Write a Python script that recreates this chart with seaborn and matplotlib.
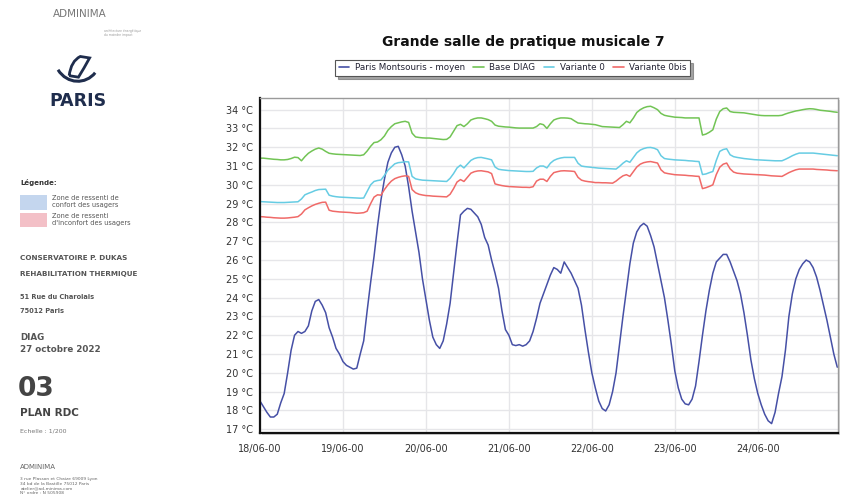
import numpy as np
import pandas as pd
import seaborn as sns
import matplotlib.pyplot as plt
from matplotlib.patches import Rectangle, PathPatch
from matplotlib.path import Path
from matplotlib.lines import Line2D
from matplotlib.ticker import MultipleLocator, FuncFormatter

# hourly values, 18/06 00h -> 24/06 23h
hours = list(range(168))
day_ticks = [0, 24, 48, 72, 96, 120, 144]
day_labels = ['18/06-00', '19/06-00', '20/06-00', '21/06-00', '22/06-00', '23/06-00', '24/06-00']
series_names = ['Paris Montsouris - moyen', 'Base DIAG', 'Variante 0', 'Variante 0bis']
series_colors = ['#4650a6', '#72c455', '#66cce3', '#f06a68']

paris = [
    18.5, 18.2, 17.9, 17.65, 17.65, 17.8, 18.4, 18.9, 20.0, 21.2, 22.0, 22.2,
    22.1, 22.2, 22.5, 23.3, 23.8, 23.9, 23.6, 23.2, 22.4, 21.9, 21.3, 21.0,
    20.6, 20.4, 20.3, 20.2, 20.25, 21.0, 21.7, 23.3, 24.8, 26.2, 27.8, 29.2,
    30.3, 31.2, 31.7, 32.0, 32.05, 31.6, 31.0, 29.9, 28.6, 27.5, 26.4, 25.0,
    23.9, 22.8, 21.9, 21.5, 21.3, 21.7, 22.6, 23.7, 25.3, 26.9, 28.4, 28.6,
    28.75, 28.7, 28.5, 28.3, 27.9, 27.2, 26.8, 26.0, 25.3, 24.5, 23.3, 22.3,
    22.0, 21.5, 21.45, 21.5, 21.42, 21.5, 21.7, 22.2, 22.9, 23.7, 24.2, 24.7,
    25.2, 25.6, 25.5, 25.3, 25.9, 25.6, 25.3, 24.9, 24.5, 23.6, 22.3, 21.1,
    20.0, 19.2, 18.5, 18.1, 17.97, 18.3, 19.0, 20.0, 21.5, 23.0, 24.4, 25.8,
    26.9, 27.5, 27.8, 27.95, 27.8, 27.3, 26.7, 25.8, 24.9, 24.0, 22.8, 21.5,
    20.1, 19.2, 18.6, 18.35, 18.3, 18.6, 19.3, 20.6, 22.0, 23.3, 24.4, 25.3,
    25.9, 26.1, 26.3, 26.3, 25.9, 25.4, 24.9, 24.2, 23.2, 22.0, 20.7, 19.7,
    18.9, 18.3, 17.8, 17.45, 17.3, 17.9, 18.9, 19.8, 21.2, 23.0, 24.2, 25.0,
    25.5, 25.8, 26.0, 25.9, 25.6, 25.1, 24.4, 23.6, 22.8, 21.9, 21.0, 20.3,
]

base_diag = [
    31.42, 31.42, 31.40, 31.38, 31.36, 31.35, 31.33, 31.33, 31.35, 31.40, 31.47, 31.45,
    31.28, 31.50, 31.68, 31.80, 31.90, 31.96, 31.90, 31.78, 31.68, 31.65, 31.63, 31.62,
    31.61, 31.60, 31.59, 31.58, 31.57, 31.56, 31.60, 31.80, 32.05, 32.25, 32.28, 32.40,
    32.60, 32.90, 33.10, 33.25, 33.30, 33.35, 33.38, 33.32, 32.75, 32.55, 32.52, 32.50,
    32.49, 32.49, 32.47, 32.45, 32.43, 32.41, 32.42, 32.55, 32.85, 33.15, 33.22, 33.10,
    33.25, 33.45, 33.52, 33.56, 33.56, 33.52, 33.47, 33.38, 33.18, 33.12, 33.10, 33.08,
    33.07, 33.05, 33.03, 33.02, 33.02, 33.02, 33.02, 33.02, 33.10, 33.25, 33.20, 33.00,
    33.25, 33.45, 33.52, 33.56, 33.56, 33.55, 33.52, 33.40, 33.29, 33.27, 33.25, 33.24,
    33.22, 33.20, 33.15, 33.10, 33.09, 33.08, 33.07, 33.06, 33.05, 33.20, 33.38, 33.30,
    33.55, 33.85, 34.00, 34.10, 34.16, 34.18, 34.10, 34.00, 33.80, 33.70, 33.66, 33.63,
    33.60, 33.59, 33.58, 33.56, 33.56, 33.56, 33.56, 33.56, 32.65, 32.70, 32.80, 32.93,
    33.50, 33.90, 34.05, 34.09, 33.90, 33.86, 33.85, 33.84, 33.83, 33.80, 33.77, 33.74,
    33.71, 33.69, 33.68, 33.68, 33.68, 33.68, 33.68, 33.70, 33.77, 33.83, 33.88, 33.93,
    33.96, 34.00, 34.03, 34.05, 34.04, 34.01, 33.97, 33.95, 33.93, 33.91, 33.88, 33.86,
]

variante_0 = [
    29.11, 29.10, 29.09, 29.08, 29.07, 29.06, 29.06, 29.06, 29.07, 29.08, 29.09, 29.10,
    29.25, 29.47, 29.55, 29.62, 29.70, 29.75, 29.76, 29.77, 29.45, 29.40, 29.37, 29.35,
    29.34, 29.33, 29.32, 29.31, 29.30, 29.29, 29.30, 29.65, 30.00, 30.18, 30.23, 30.26,
    30.50, 30.78, 30.95, 31.12, 31.18, 31.20, 31.23, 31.22, 30.45, 30.32, 30.28, 30.25,
    30.24, 30.23, 30.22, 30.21, 30.20, 30.19, 30.18, 30.35, 30.60, 30.90, 31.05, 30.90,
    31.10, 31.30, 31.40, 31.45, 31.46, 31.42, 31.38, 31.33, 30.95, 30.83, 30.80, 30.78,
    30.76, 30.75, 30.74, 30.73, 30.72, 30.71, 30.71, 30.72, 30.90, 31.00, 31.00, 30.90,
    31.15, 31.30, 31.38, 31.43, 31.46, 31.46, 31.46, 31.46, 31.15, 31.00, 30.97, 30.95,
    30.93, 30.91, 30.89, 30.88, 30.87, 30.86, 30.85, 30.84, 30.98, 31.15, 31.28, 31.20,
    31.45, 31.70, 31.85, 31.93, 31.98, 31.99, 31.95, 31.87, 31.55, 31.40, 31.37, 31.35,
    31.33, 31.32, 31.31, 31.30, 31.28, 31.27, 31.25, 31.24, 30.55, 30.58, 30.65, 30.71,
    31.30, 31.78, 31.88, 31.92, 31.60, 31.50, 31.46, 31.43, 31.40, 31.38, 31.36, 31.34,
    31.33, 31.32, 31.31, 31.30, 31.29, 31.28, 31.28, 31.28, 31.36, 31.45, 31.55, 31.63,
    31.69, 31.69, 31.69, 31.69, 31.69, 31.67, 31.65, 31.63, 31.61, 31.59, 31.57, 31.55,
]

variante_0bis = [
    28.31, 28.30, 28.28, 28.27, 28.25, 28.24, 28.23, 28.23, 28.24, 28.26, 28.28, 28.31,
    28.45, 28.67, 28.78, 28.88, 28.96, 29.02, 29.07, 29.08, 28.65, 28.60, 28.58, 28.56,
    28.55, 28.54, 28.53, 28.51, 28.49, 28.50, 28.52, 28.60, 29.00, 29.35, 29.47, 29.45,
    29.75, 30.00, 30.20, 30.33, 30.40, 30.45, 30.48, 30.45, 29.75, 29.58, 29.50, 29.46,
    29.43, 29.42, 29.40, 29.39, 29.38, 29.37, 29.36, 29.50, 29.80, 30.15, 30.28, 30.18,
    30.40, 30.62, 30.70, 30.74, 30.75, 30.72, 30.69, 30.60, 30.05, 30.00, 29.96, 29.93,
    29.91, 29.90, 29.89, 29.88, 29.87, 29.87, 29.86, 29.90, 30.20, 30.30, 30.30, 30.18,
    30.45, 30.65, 30.70, 30.74, 30.75, 30.74, 30.73, 30.71, 30.40, 30.25, 30.20, 30.17,
    30.15, 30.12, 30.12, 30.11, 30.11, 30.10, 30.09, 30.20, 30.35, 30.48, 30.54, 30.45,
    30.70, 30.95, 31.10, 31.18, 31.22, 31.24, 31.20, 31.16, 30.80, 30.64, 30.60, 30.57,
    30.54, 30.53, 30.52, 30.51, 30.49, 30.48, 30.46, 30.45, 29.80, 29.85, 29.92, 30.00,
    30.55, 30.94, 31.10, 31.16, 30.85, 30.68, 30.62, 30.60, 30.58, 30.57, 30.56, 30.55,
    30.54, 30.53, 30.52, 30.50, 30.48, 30.47, 30.46, 30.45, 30.55, 30.65, 30.73, 30.80,
    30.84, 30.84, 30.84, 30.84, 30.84, 30.82, 30.81, 30.80, 30.79, 30.77, 30.76, 30.75,
]

df = pd.DataFrame({
    'hour': hours * 4,
    'temp': paris + base_diag + variante_0 + variante_0bis,
    'serie': np.repeat(series_names, len(hours)),
})

sns.set_style('white')
plt.rcParams['font.family'] = ['DejaVu Sans']

fig = plt.figure(figsize=(8.51, 5.0), dpi=100)

# light shadow behind the plot frame (an empty axes under the real one)
sax = fig.add_axes([0.3075, 0.130, 0.6792, 0.670], zorder=0)
sax.set_facecolor('#d6d6d6')
sax.set_xticks([])
sax.set_yticks([])
for s in sax.spines.values():
    s.set_visible(False)

ax = fig.add_axes([0.3055, 0.134, 0.6792, 0.670], zorder=1)
ax.set_facecolor('white')

sns.lineplot(data=df, x='hour', y='temp', hue='serie', hue_order=series_names,
             palette=series_colors, linewidth=1.1, legend=False, ax=ax)

ax.set_xlim(0, 167.2)
ax.set_ylim(16.8, 34.62)
ax.set_xticks(day_ticks)
ax.set_xticklabels(day_labels)
ax.xaxis.set_minor_locator(MultipleLocator(6))
ax.yaxis.set_major_locator(MultipleLocator(1))
ax.yaxis.set_minor_locator(MultipleLocator(0.2))
ax.yaxis.set_major_formatter(FuncFormatter(lambda v, p: f'{v:.0f} °C'))
ax.set_xlabel('')
ax.set_ylabel('')
ax.grid(True, which='major', color='#e6e6e9', linewidth=1.0)
ax.set_axisbelow(True)
ax.tick_params(axis='both', which='major', direction='out', length=3, width=0.8,
               color='#333333', labelsize=7, labelcolor='#333333', pad=2)
ax.tick_params(axis='both', which='minor', direction='out', length=2, width=0.6, color='#555555')
ax.tick_params(axis='x', which='major', pad=5)
ax.tick_params(axis='x', which='minor', length=3)
for side in ['left', 'bottom']:
    ax.spines[side].set_color('#111111')
    ax.spines[side].set_linewidth(1.6)
for side in ['top', 'right']:
    ax.spines[side].set_color('#9a9a9a')
    ax.spines[side].set_linewidth(1.0)

fig.text(0.615, 0.916, 'Grande salle de pratique musicale 7', ha='center', va='center',
         fontsize=10, fontweight='bold', color='#111111')

handles = [Line2D([], [], color=c, linewidth=1.2) for c in series_colors]
leg = fig.legend(handles, series_names, loc='center', bbox_to_anchor=(0.6025, 0.864),
                 ncol=4, fontsize=6.3, frameon=True, fancybox=False, shadow=True,
                 edgecolor='#555555', handlelength=1.2, handletextpad=0.6,
                 columnspacing=1.0, borderpad=0.4)
leg.get_frame().set_linewidth(0.8)
for t in leg.get_texts():
    t.set_color('#222233')

# ---- left side cartouche ----
gray = '#555555'
navy = '#1f2d4d'
fig.text(0.094, 0.972, 'ADMINIMA', ha='center', va='center', fontsize=7.5, color='#777777')
fig.text(0.122, 0.934, 'architecture énergétique\ndu moindre impact', ha='left', va='center',
         fontsize=2.2, color='#999999', linespacing=1.1)

# Paris logo: stylised boat
boat = Path([(0.0, 0.55), (0.25, 0.05), (0.75, 0.05), (1.0, 0.45)],
            [Path.MOVETO, Path.CURVE4, Path.CURVE4, Path.CURVE4])
sail = Path([(0.3, 0.35), (0.35, 0.85), (0.6, 1.0), (0.85, 0.95), (0.7, 0.6), (0.55, 0.3), (0.3, 0.35)],
            [Path.MOVETO, Path.CURVE3, Path.CURVE3, Path.LINETO, Path.CURVE3, Path.CURVE3, Path.LINETO])
lax = fig.add_axes([0.066, 0.825, 0.048, 0.065])
lax.set_axis_off()
lax.set_xlim(-0.05, 1.05)
lax.set_ylim(-0.05, 1.05)
lax.add_patch(PathPatch(boat, facecolor='none', edgecolor=navy, linewidth=2.2))
lax.add_patch(PathPatch(sail, facecolor='none', edgecolor=navy, linewidth=2.0))
fig.text(0.091, 0.798, 'PARIS', ha='center', va='center', fontsize=12.5,
         fontweight='bold', color=navy)

fig.text(0.024, 0.636, 'Légende:', ha='left', va='center', fontsize=5, fontweight='bold', color='#333333')
fig.patches.append(Rectangle((0.024, 0.581), 0.031, 0.029, transform=fig.transFigure,
                             facecolor='#c4d6ee', edgecolor='none'))
fig.patches.append(Rectangle((0.024, 0.546), 0.031, 0.029, transform=fig.transFigure,
                             facecolor='#f3c0c7', edgecolor='none'))
fig.text(0.061, 0.596, 'Zone de ressenti de\nconfort des usagers', ha='left', va='center',
         fontsize=4.8, color='#555555', linespacing=1.2)
fig.text(0.061, 0.560, "Zone de ressenti\nd'inconfort des usagers", ha='left', va='center',
         fontsize=4.8, color='#555555', linespacing=1.2)

fig.text(0.024, 0.484, 'CONSERVATOIRE P. DUKAS', ha='left', va='center', fontsize=5.2,
         fontweight='bold', color=gray)
fig.text(0.024, 0.452, 'REHABILITATION THERMIQUE', ha='left', va='center', fontsize=5.2,
         fontweight='bold', color=gray)
fig.text(0.024, 0.406, '51 Rue du Charolais', ha='left', va='center', fontsize=4.8,
         fontweight='bold', color=gray)
fig.text(0.024, 0.378, '75012 Paris', ha='left', va='center', fontsize=4.8,
         fontweight='bold', color=gray)
fig.text(0.024, 0.324, 'DIAG', ha='left', va='center', fontsize=6.3, fontweight='bold', color=gray)
fig.text(0.024, 0.302, '27 octobre 2022', ha='left', va='center', fontsize=6.3,
         fontweight='bold', color=gray)
fig.text(0.021, 0.222, '03', ha='left', va='center', fontsize=19, fontweight='bold', color='#444444')
fig.text(0.024, 0.174, 'PLAN RDC', ha='left', va='center', fontsize=7.5, fontweight='bold',
         color='#444444')
fig.text(0.024, 0.138, 'Echelle : 1/200', ha='left', va='center', fontsize=4.5, color='#777777')
fig.text(0.024, 0.066, 'ADMINIMA', ha='left', va='center', fontsize=5, color='#666666')
fig.text(0.024, 0.028, '3 rue Plasson et Chaize 69009 Lyon\n34 bd de la Bastille 75012 Paris\n'
         'atelier@ad-minima.com\nN° ordre : N 505908', ha='left', va='center',
         fontsize=3.2, color='#666666', linespacing=1.15)

fig.savefig('out.png', dpi=100, facecolor='white')
